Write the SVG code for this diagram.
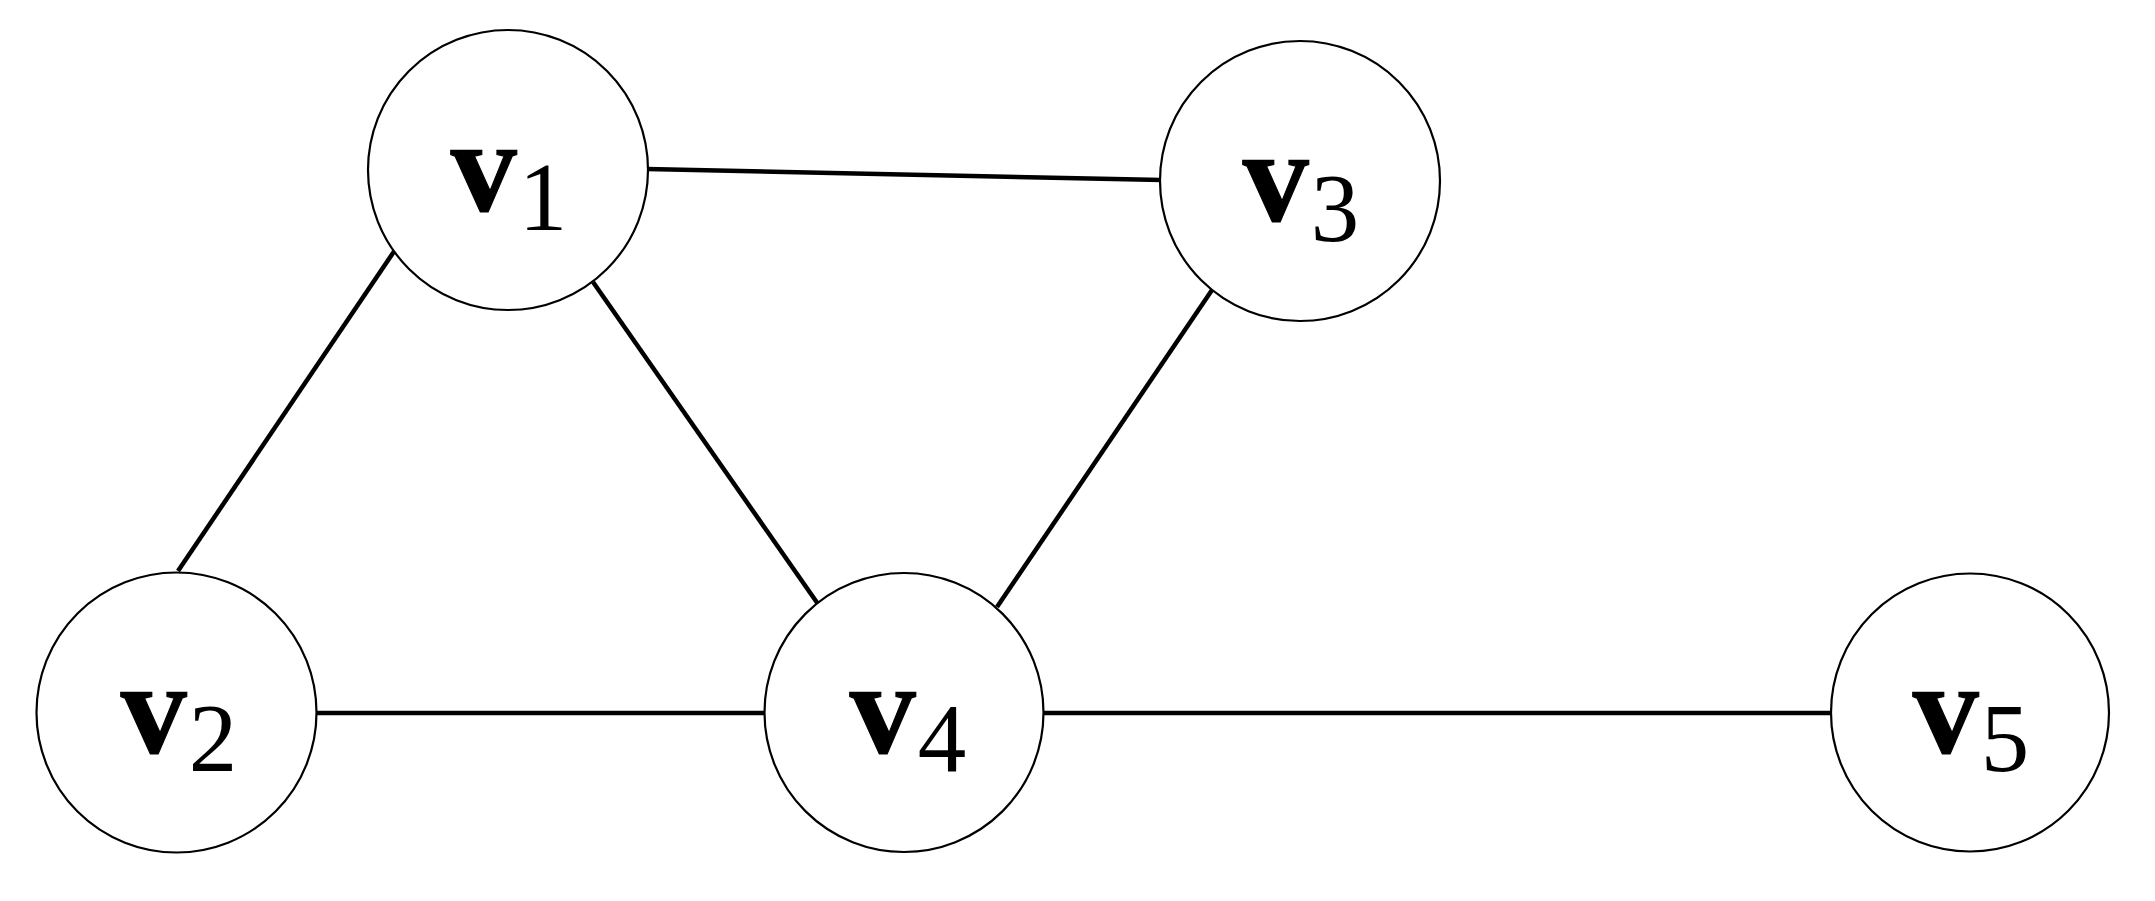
<svg xmlns="http://www.w3.org/2000/svg" width="2155" height="901" viewBox="0 0 2155 901">
<style>
.node circle{fill:#fff;stroke:#000;stroke-width:2.2}
.edges line{stroke:#000;stroke-width:4.5}
.lbl{font-family:"Liberation Serif","Times New Roman",serif;fill:#000;text-anchor:middle}
.v{font-weight:bold;font-size:132px;stroke:#000;stroke-width:1.2}
.s{font-size:97px}
</style>
<rect width="2155" height="901" fill="#fff"/>
<g class="edges" id="connectors">
<line x1="647" y1="169" x2="1162" y2="180"/>
<line x1="395" y1="250" x2="178" y2="571"/>
<line x1="593" y1="282" x2="818" y2="604"/>
<line x1="1212" y1="290" x2="997" y2="607"/>
<line x1="316" y1="713" x2="765" y2="713"/>
<line x1="1043" y1="713" x2="1832" y2="713"/>
</g>
<g class="node" id="v1"><circle cx="508" cy="170" r="140"/><text class="lbl" x="509" y="211"><tspan class="v">v</tspan><tspan class="s" dx="2" dy="19">1</tspan></text></g>
<g class="node" id="v3"><circle cx="1300" cy="181" r="140"/><text class="lbl" x="1301" y="221"><tspan class="v">v</tspan><tspan class="s" dx="2" dy="20">3</tspan></text></g>
<g class="node" id="v2"><circle cx="176.5" cy="712.5" r="140"/><text class="lbl" x="179" y="753"><tspan class="v">v</tspan><tspan class="s" dx="2" dy="18">2</tspan></text></g>
<g class="node" id="v4"><circle cx="904" cy="712.5" r="139.5"/><text class="lbl" x="908" y="753"><tspan class="v">v</tspan><tspan class="s" dx="2" dy="18">4</tspan></text></g>
<g class="node" id="v5"><circle cx="1970" cy="712.5" r="139"/><text class="lbl" x="1971" y="753"><tspan class="v">v</tspan><tspan class="s" dx="2" dy="18">5</tspan></text></g>
</svg>
